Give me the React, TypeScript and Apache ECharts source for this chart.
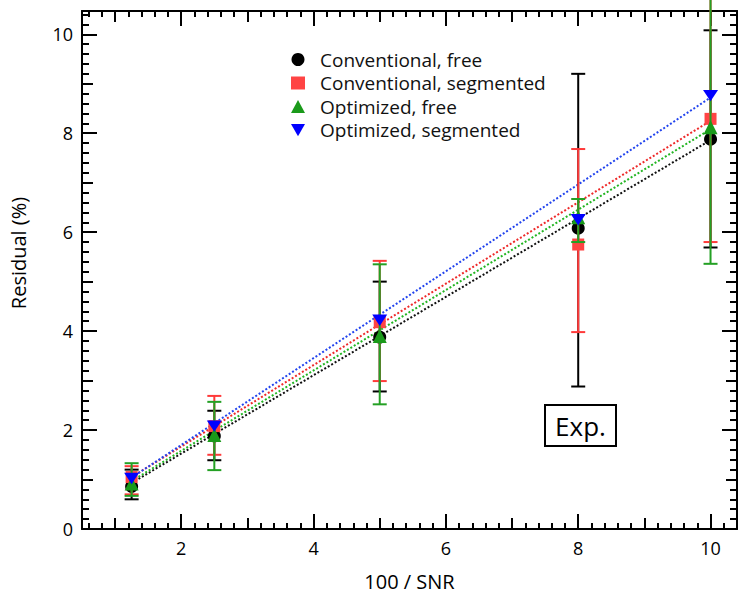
import React, { useEffect, useRef } from "react";
import * as echarts from "echarts";

// ---------- data ----------
const xValues = [1.25, 2.5, 5, 8, 10];
const seriesNames = [
  "Conventional, free",
  "Conventional, segmented",
  "Optimized, free",
  "Optimized, segmented",
];

const convFree = [0.86, 1.88, 3.88, 6.08, 7.88];
const convFreeLow = [0.6, 1.39, 2.78, 2.88, 5.69];
const convFreeHigh = [1.2, 2.39, 5.0, 9.2, 10.08];

const convSeg = [1.05, 2.08, 4.18, 5.75, 8.29];
const convSegLow = [0.7, 1.5, 2.99, 3.98, 5.8];
const convSegHigh = [1.27, 2.69, 5.42, 7.68, 10.8];

const optFree = [0.92, 1.9, 3.9, 6.3, 8.12];
const optFreeLow = [0.67, 1.19, 2.52, 5.8, 5.36];
const optFreeHigh = [1.33, 2.57, 5.35, 6.67, 10.9];

const optSeg = [1.02, 2.08, 4.22, 6.25, 8.76];

// linear-fit lines (end points)
const fitX = [1.25, 10];
const convFreeFit = [0.93, 7.86];
const convSegFit = [1.05, 8.25];
const optFreeFit = [0.97, 8.08];
const optSegFit = [1.04, 8.72];

// axis tick labels
const xTickLabels = [2, 4, 6, 8, 10];
const xMidTicks = [1, 3, 5, 7, 9];
const yTickLabels = [0, 2, 4, 6, 8, 10];
const yMidTicks = [1, 3, 5, 7, 9];

const xAxisTitle = "100 / SNR";
const yAxisTitle = "Residual (%)";
const boxLabel = "Exp.";

const X_MIN = 0.5;
const X_MAX = 10.4;
const Y_MIN = 0;
const Y_MAX = 10.47;

const FONT = "'Open Sans', 'Noto Sans', sans-serif";

function minorTicks(fromK: number, toK: number): number[] {
  const out: number[] = [];
  for (let k = fromK; k <= toK; k++) {
    if (k % 5 !== 0) out.push(k / 5);
  }
  return out;
}
const xMinorTicks = minorTicks(3, 52);
const yMinorTicks = minorTicks(1, 52);

function makeAxis(
  dim: "x" | "y",
  position: string,
  ticks: number[],
  len: number,
  withLine: boolean,
  labels: number[] | null,
  extra: any = {}
) {
  return {
    type: "value",
    position,
    min: dim === "x" ? X_MIN : Y_MIN,
    max: dim === "x" ? X_MAX : Y_MAX,
    axisLine: {
      show: withLine,
      onZero: false,
      lineStyle: { color: "#000", width: 2 },
    },
    axisTick: {
      show: true,
      inside: true,
      length: len,
      customValues: ticks,
      lineStyle: { color: "#000", width: 2 },
    },
    axisLabel: labels
      ? {
          show: true,
          customValues: labels,
          fontSize: 18,
          fontFamily: FONT,
          color: "#000",
          margin: dim === "x" ? 10 : 9,
        }
      : { show: false },
    splitLine: { show: false },
    minorTick: { show: false },
    ...extra,
  };
}

function errorSeries(
  name: string,
  lows: number[],
  highs: number[],
  color: string,
  z: number
) {
  return {
    type: "custom",
    name,
    xAxisIndex: 0,
    yAxisIndex: 0,
    z,
    silent: true,
    clip: false,
    data: xValues.map((x, i) => [x, lows[i], highs[i]]),
    encode: { x: 0, y: [1, 2] },
    renderItem: (_params: any, api: any) => {
      const x = api.value(0);
      const lo = api.coord([x, api.value(1)]);
      const hi = api.coord([x, api.value(2)]);
      const hw = 7;
      const style = { stroke: color, lineWidth: 2 };
      return {
        type: "group",
        children: [
          { type: "line", shape: { x1: lo[0], y1: lo[1], x2: hi[0], y2: hi[1] }, style },
          { type: "line", shape: { x1: lo[0] - hw, y1: lo[1], x2: lo[0] + hw, y2: lo[1] }, style },
          { type: "line", shape: { x1: hi[0] - hw, y1: hi[1], x2: hi[0] + hw, y2: hi[1] }, style },
        ],
      };
    },
  };
}

function fitSeries(name: string, ys: number[], color: string) {
  return {
    type: "line",
    name,
    xAxisIndex: 0,
    yAxisIndex: 0,
    z: 2,
    silent: true,
    symbol: "none",
    data: fitX.map((x, i) => [x, ys[i]]),
    lineStyle: { color, width: 2, type: "dotted" },
  };
}

function scatterSeries(
  name: string,
  vals: number[],
  symbol: string,
  size: any,
  color: string,
  z: number
) {
  return {
    type: "scatter",
    name,
    xAxisIndex: 0,
    yAxisIndex: 0,
    z,
    clip: false,
    symbol,
    symbolSize: size,
    symbolKeepAspect: true,
    data: xValues.map((x, i) => [x, vals[i]]),
    itemStyle: { color, opacity: 1 },
  };
}

const BLACK = "#000000";
const RED = "#ff4444";
const GREEN = "#1a9a1a";
const BLUE = "#0000ff";

export default function App() {
  const ref = useRef<HTMLDivElement>(null);

  useEffect(() => {
    if (!ref.current) return;
    const chart = echarts.init(ref.current, undefined, { renderer: "svg" });

    const option: any = {
      animation: false,
      backgroundColor: "#ffffff",
      grid: { left: 82, right: 14, top: 11, bottom: 67, containLabel: false },
      xAxis: [
        makeAxis("x", "bottom", xTickLabels, 15, true, xTickLabels, {
          name: xAxisTitle,
          nameLocation: "middle",
          nameGap: 42,
          nameTextStyle: { fontSize: 20, fontFamily: FONT, color: "#000" },
        }),
        makeAxis("x", "bottom", xMidTicks, 11, false, null),
        makeAxis("x", "bottom", xMinorTicks, 6, false, null),
        makeAxis("x", "top", xTickLabels, 15, true, null),
        makeAxis("x", "top", xMidTicks, 11, false, null),
        makeAxis("x", "top", xMinorTicks, 6, false, null),
      ],
      yAxis: [
        makeAxis("y", "left", yTickLabels, 15, true, yTickLabels),
        makeAxis("y", "left", yMidTicks, 11, false, null),
        makeAxis("y", "left", yMinorTicks, 7, false, null),
        makeAxis("y", "right", yTickLabels, 15, true, null),
        makeAxis("y", "right", yMidTicks, 11, false, null),
        makeAxis("y", "right", yMinorTicks, 7, false, null),
      ],
      legend: {
        data: seriesNames,
        orient: "vertical",
        left: 286,
        top: 45,
        itemWidth: 14,
        itemHeight: 13,
        itemGap: 4.5,
        selectedMode: false,
        textStyle: {
          fontSize: 19,
          fontFamily: FONT,
          color: "#111",
          lineHeight: 18,
          padding: [0, 0, 0, 10],
        },
      },
      graphic: [
        {
          type: "text",
          x: 18,
          y: 253,
          rotation: Math.PI / 2,
          style: {
            text: yAxisTitle,
            fontSize: 20,
            fontFamily: FONT,
            fill: "#000",
            align: "center",
            verticalAlign: "middle",
          },
        },
        {
          type: "rect",
          z: 20,
          shape: { x: 545, y: 405, width: 71, height: 41 },
          style: { fill: "#ffffff", stroke: "#000", lineWidth: 2 },
        },
        {
          type: "text",
          z: 21,
          x: 580.5,
          y: 426,
          style: {
            text: boxLabel,
            fontSize: 26,
            fontFamily: FONT,
            fill: "#000",
            align: "center",
            verticalAlign: "middle",
          },
        },
      ],
      series: [
        fitSeries("fit-cf", convFreeFit, "#111111"),
        fitSeries("fit-cs", convSegFit, "#ee2a2a"),
        fitSeries("fit-of", optFreeFit, "#22b522"),
        fitSeries("fit-os", optSegFit, "#2244ee"),
        errorSeries("err-cf", convFreeLow, convFreeHigh, BLACK, 3),
        scatterSeries(seriesNames[0], convFree, "circle", 13, BLACK, 4),
        errorSeries("err-cs", convSegLow, convSegHigh, "#ff3a3a", 5),
        scatterSeries(seriesNames[1], convSeg, "rect", 12, RED, 6),
        errorSeries("err-of", optFreeLow, optFreeHigh, "#24a024", 7),
        scatterSeries(seriesNames[2], optFree, "triangle", 14, GREEN, 8),
        scatterSeries(
          seriesNames[3],
          optSeg,
          "path://M0,0L16,0L8,14Z",
          [15, 13],
          BLUE,
          9
        ),
      ],
    };

    chart.setOption(option);
    return () => chart.dispose();
  }, []);

  return (
    <div
      ref={ref}
      style={{ position: "fixed", left: 0, top: 0, width: 751, height: 596 }}
    />
  );
}
